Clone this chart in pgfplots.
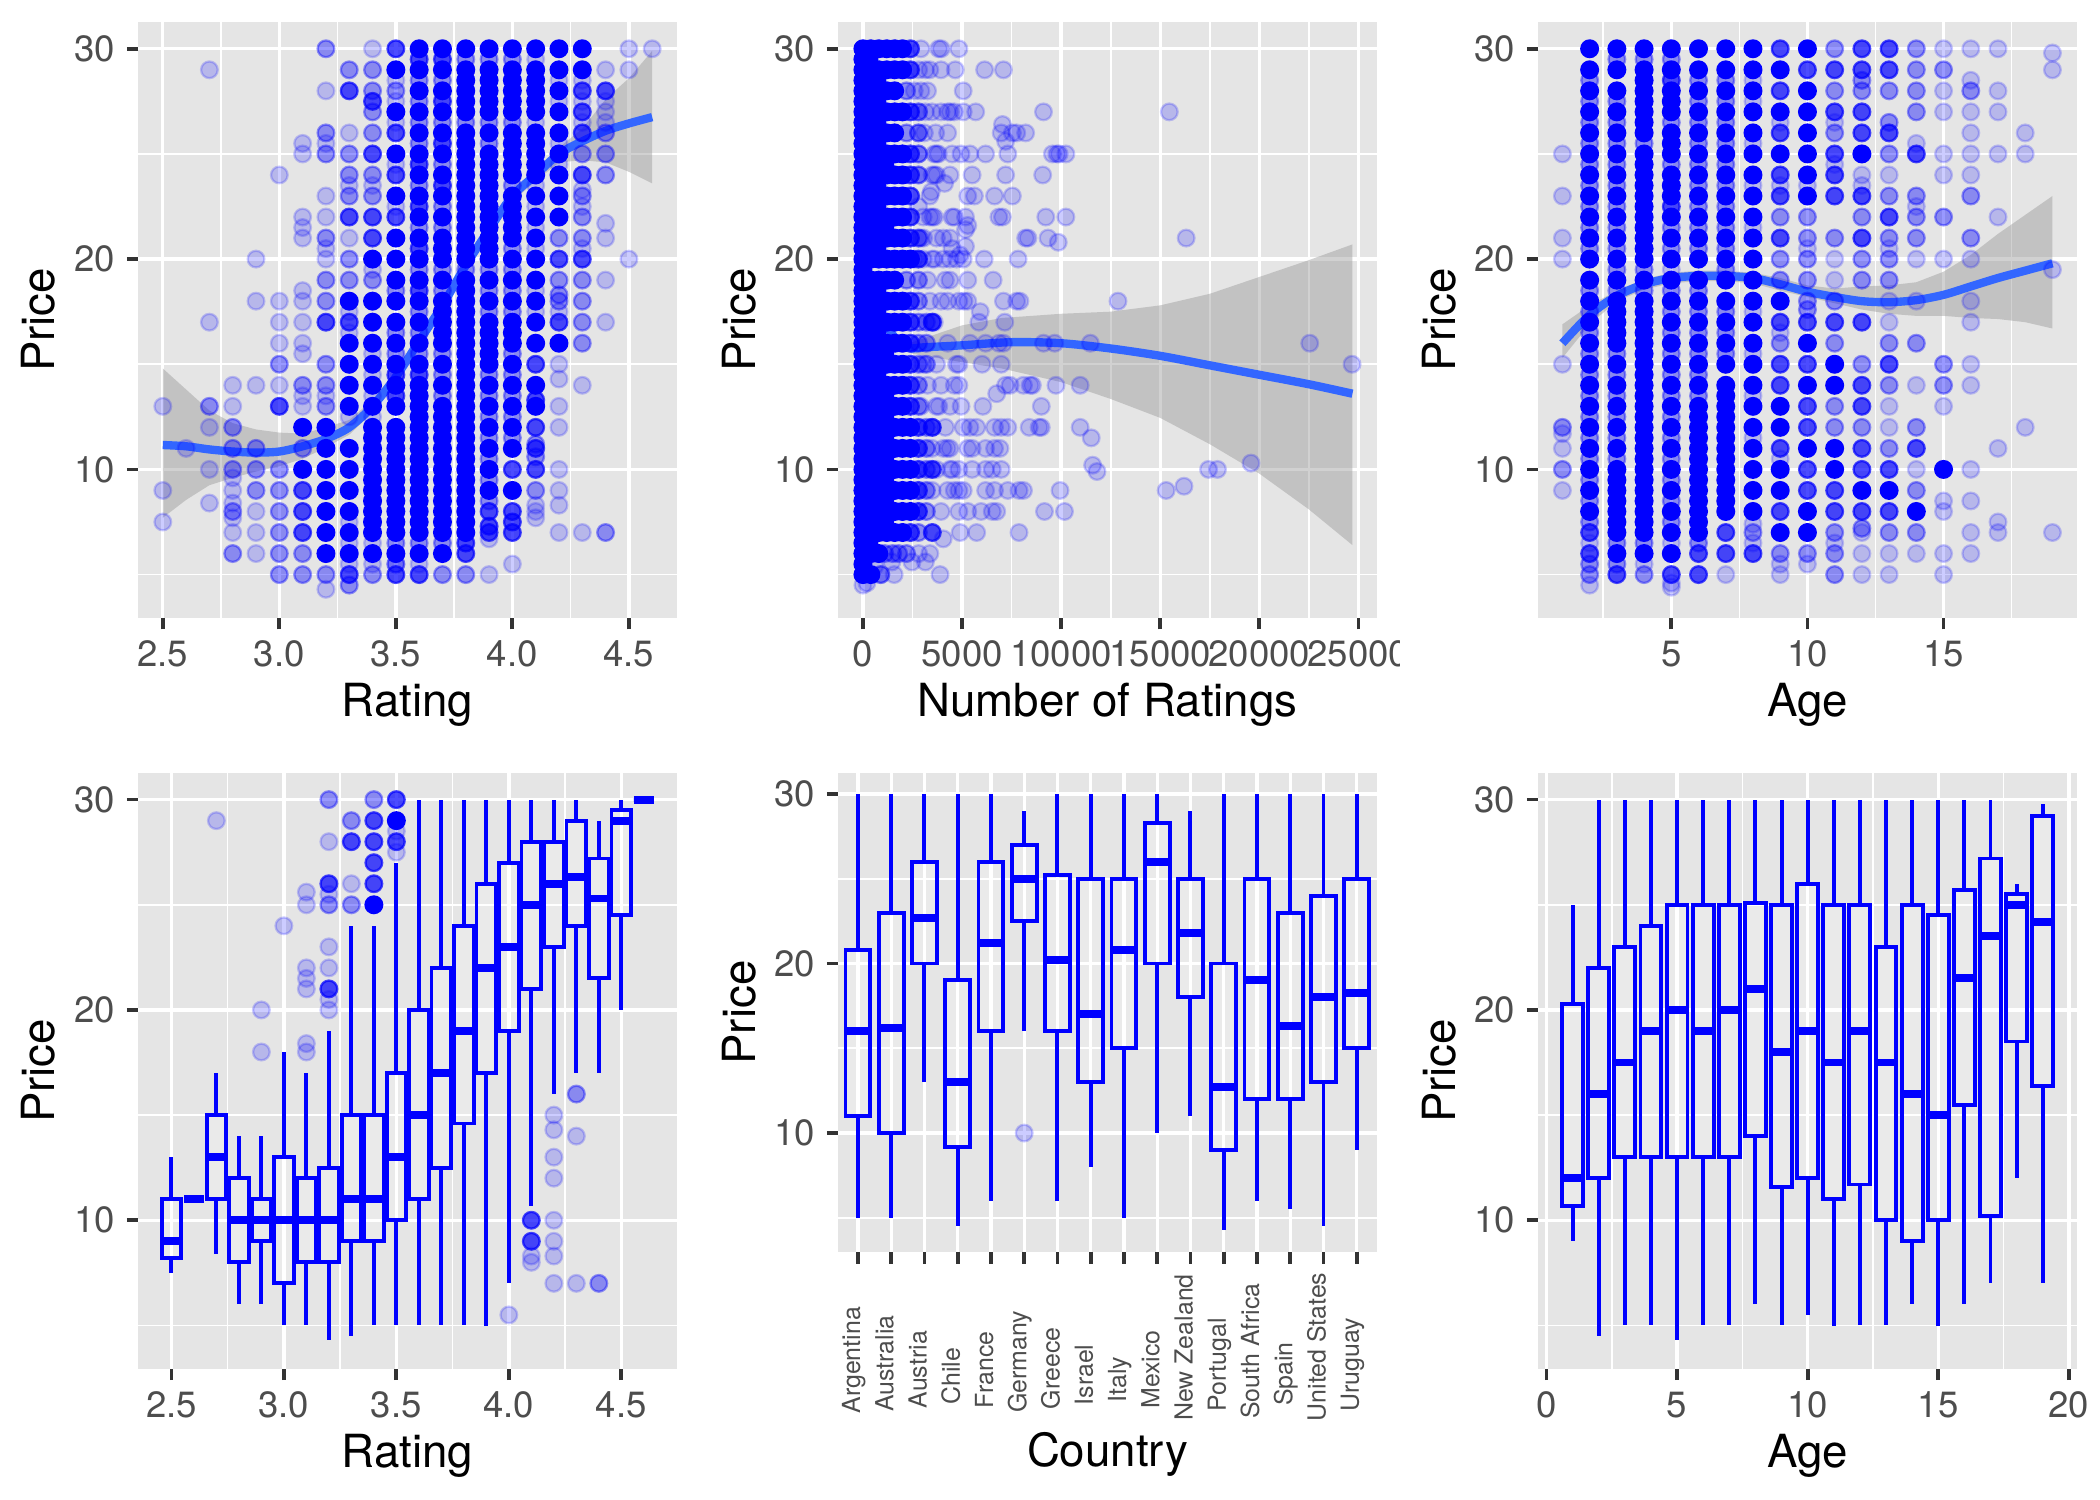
\documentclass[border=0pt]{standalone}
\usepackage{fontspec}
\setmainfont{TeX Gyre Heros}
\usepackage{pgfplots}
\pgfplotsset{compat=1.18}
\usepgfplotslibrary{statistics}
\definecolor{panel}{HTML}{E5E5E5}
\definecolor{tickc}{HTML}{333333}
\definecolor{ticktxt}{HTML}{4D4D4D}
\definecolor{smoothc}{HTML}{3366FF}
\definecolor{ribbon}{HTML}{999999}
\newcommand\axt{\fontsize{11}{13}\selectfont}
\pgfplotsset{
 gg/.style={scale only axis,width=129.2bp,height=143bp,anchor=north west,clip=true,
  axis line style={draw=none},axis background/.style={fill=panel},
  grid=both,major grid style={white,line width=.8bp},minor grid style={white,line width=.4bp},
  tick align=outside,xtick pos=bottom,ytick pos=left,
  major tick length=2.75bp,minor tick length=0pt,
  major tick style={tickc,line width=.9bp},minor tick style={draw=none},
  tick label style={font=\fontsize{8.8}{10}\selectfont,text=ticktxt,inner sep=2.6bp},
  ytick={10,20,30},yticklabels={10,20,30},minor ytick={5,15,25},
  scaled x ticks=false,
  ylabel={Price},
  every axis x label/.style={at={(axis description cs:0.5,0)},anchor=base,yshift=-23.6bp,font=\axt,text=black},
  every axis y label/.style={at={(axis description cs:0,0.5)},xshift=-20bp,rotate=90,anchor=base,font=\axt,text=black},
  boxplot/draw direction=y,
  boxplot/whisker extend=0,
  boxplot/every median/.style={line width=1.9bp},
 },
 ptm/.style={only marks,mark=*,mark size=2bp,
  mark options={draw=blue,fill=blue,draw opacity=#1,fill opacity=#1,line width=.55bp}},
 boxp/.style={blue,line width=.95bp,fill=white,fill opacity=.2,solid},
 sm/.style={smoothc,line width=2bp,smooth,no marks,line join=round},
 rb/.style={fill=ribbon,fill opacity=.45,draw=none,no marks},
}
% column of points: opacity, x, y values
\newcommand\C[3]{\def\pp{}\foreach \y in {#3}{\xdef\pp{\pp (#2,\y)}}%
 \edef\tmp{\noexpand\addplot[ptm=#1] coordinates {\pp};}\tmp}
% box: position, low whisker, Q1, median, Q3, high whisker
\newcommand\B[6]{\addplot[boxp,boxplot prepared={draw position=#1,lower whisker=#2,lower quartile=#3,median=#4,upper quartile=#5,upper whisker=#6}] coordinates {};}
\newcommand\cl[1]{\setbox0=\hbox{#1}\hbox to 0pt{\kern-.18\wd0 \copy0\hss}}
\begin{document}
\begin{tikzpicture}
\path[use as bounding box] (0,0) rectangle (504bp,360bp);
% ---------- Panel 1
\begin{axis}[gg,at={(33.2bp,354.7bp)},xmin=2.395,xmax=4.705,ymin=2.94,ymax=31.27,
 xtick={2.5,3,3.5,4,4.5},xticklabels={2.5,3.0,3.5,4.0,4.5},minor xtick={2.75,3.25,3.75,4.25},xlabel={Rating}]
\C{.2}{2.5}{13,9,7.5}
\C{.2}{2.6}{11}
\C{.2}{2.7}{29,17,12,10,8.4}\C{.4}{2.7}{13}
\C{.2}{2.8}{14,13,9.6,9,8.4,7.7,7}\C{.4}{2.8}{12,11,10,8,6}
\C{.2}{2.9}{20,18,14,8,7,6}\C{.4}{2.9}{11,10,9}
\C{.2}{3.0}{24,18,17,16,14}\C{.4}{3.0}{15,10,9,8,7,6,5}\C{.7}{3.0}{13}
\C{.2}{3.1}{25.5,25,22,21.5,21,18.5,18,17,16,15.5,13.5,13}\C{.4}{3.1}{14,11,6,5}\C{.7}{3.1}{9,8,7}\C{1}{3.1}{12,10}
\C{.2}{3.2}{28,25.5,23,22,20.5,20,4.3,13.5}\C{.4}{3.2}{30,26,25,21,19,18,15,14,13,5}\C{.7}{3.2}{17}\C{1}{3.2}{12,11,10,9,8,7,6}
\C{.2}{3.3}{26,21,12.5,23.5,7.5,6.5,16.5,17.5,5.5}\C{.4}{3.3}{29,25,24,23,20,19,4.5}\C{.7}{3.3}{28,22,17,5}\C{1}{3.3}{18,16,15,14,13,11,10,9,8,7,6}
\C{.2}{3.4}{30,23.5,8.5,6.5,5.5,19.5,15.5,14.5,13.5,12.5}\C{.4}{3.4}{29,28,27,26,24,23,19,5}\C{.7}{3.4}{25,22,21,27.5}\C{1}{3.4}{20,18,17,16,15,14,13,12,11,10,9,8,7,6,11.5,10.5,9.5,8.5,7.5}
\C{.2}{3.5}{28.5,27.5,5.5,26.5,24.5,22.5}\C{.4}{3.5}{28,16.5,15.5,18.5,6.5,5.5}\C{.7}{3.5}{30,26,24,22,5,14.5,13.5}\C{1}{3.5}{29,27,25,23,21,20,19,18,17,16,15,14,13,12,11.5,11,10.5,10,9.5,9,8.5,8,7.5,7,6}
\C{.2}{3.6}{5.5}\C{.4}{3.6}{28.5,27.5,26.5,25.5,23.5,21.5,19.5,17.5,16.5,15.5,6.5}\C{.7}{3.6}{5,29.5,24.5,22.5,20.5,18.5,14.5}\C{1}{3.6}{30,29,28,27,26,25,24,23,22,21,20,19,18,17,16,15,14,13,12,11,10,9,8,7,6,13.5,12.5,11.5,10.5,9.5,8.5,7.5}
\C{.4}{3.7}{5,28.5,26.5,24.5,22.5,21.5,19.5,18.5,15.5,14.5,13.5,6.5}\C{.7}{3.7}{29.5,27.5,25.5,23.5}\C{1}{3.7}{30,29,28,27,26,25,24,23,22,21,20,19,18,17,16,15,14,13,12,11,10,9,8,7,6,20.5,17.5,16.5,12.5,11.5,10.5,9.5,8.5,7.5}
\C{.4}{3.8}{5,29.5,26.5,19.5}\C{.7}{3.8}{6,6.5}\C{1}{3.8}{30,29,28,27,26,25,24,23,22,21,20,19,18,17,16,15,14,13,12,11,10,9,8,7,28.5,27.5,25.5,24.5,23.5,22.5,21.5,20.5,18.5,17.5,16.5,15.5,14.5,13.5,12.5,11.5,10.5,9.5,8.5,7.5}
\C{.2}{3.9}{5,6.7}\C{.4}{3.9}{29.5,26.5,25.5,19.5,18.5,17.5,14.5,13.5,12.5,11.5,10.5,9.5,8.5}\C{.7}{3.9}{7,8,7.3}\C{1}{3.9}{30,29,28,27,26,25,24,23,22,21,20,19,18,17,16,15,14,13,12,11,10,9,28.5,27.5,24.5,23.5,22.5,21.5,20.5,16.5,15.5}
\C{.2}{4.0}{5.5}\C{.4}{4.0}{29.5,26.5,23.5,20.5,19.5,18.5,17.5,15.5,14.5,13.5,12.5,11.5}\C{.7}{4.0}{10,8,7,7.5}\C{1}{4.0}{30,29,28,27,26,25,24,23,22,21,20,19,18,17,16,15,14,13,12,11,9,28.5,27.5,25.5,24.5,22.5,21.5,16.5}
\C{.2}{4.1}{8,7.7,8.3,29.5,26.5,23.5,22.5,21.5,20.5,18.5,17.5}\C{.4}{4.1}{11.2,10.6,9}\C{.7}{4.1}{15,12,11,10,13.3}\C{1}{4.1}{30,29,28,27,26,25,24,23,22,21,20,19,18,17,16,14,13,28.5,27.5,25.5,24.5}
\C{.2}{4.2}{15,14.3,13,12,10,9,8.3,7,17.5,28.5,27.5,25.5,24.5}\C{.4}{4.2}{19,18.3,18,21}\C{.7}{4.2}{20,17}\C{1}{4.2}{30,29,28,27,26,25,24,23,22,16}
\C{.2}{4.3}{22.5,20.5,14,7,26.5,23.3,28.5,27.5}\C{.4}{4.3}{25,23,22,21,19,18,17,16}\C{.7}{4.3}{28,27,26,24,20}\C{1}{4.3}{30,29}
\C{.2}{4.4}{29,27.5,27,26.5,21.7,21,19,17}\C{.4}{4.4}{26,25,24,7}\C{.7}{4.4}{28}
\C{.2}{4.5}{30,29,20}
\C{.2}{4.6}{30}
\addplot[rb] coordinates {(2.5,14.8)(2.6,13.8)(2.7,12.8)(2.8,12.2)(2.9,11.9)(3.0,11.75)(3.1,11.7)(3.2,12.0)(3.3,12.35)(3.4,13.3)(3.5,14.7)(3.6,16.4)(3.7,18.05)(3.8,19.95)(3.9,21.65)(4.0,23.25)(4.1,24.3)(4.2,25.3)(4.3,26.2)(4.4,27.6)(4.5,28.6)(4.6,29.9)
 (4.6,23.6)(4.5,24.15)(4.4,24.6)(4.3,24.7)(4.2,24.6)(4.1,23.7)(4.0,22.75)(3.9,21.15)(3.8,19.45)(3.7,17.55)(3.6,15.8)(3.5,14.1)(3.4,12.7)(3.3,11.65)(3.2,11.05)(3.1,10.5)(3.0,10.15)(2.9,9.9)(2.8,9.6)(2.7,9.25)(2.6,8.55)(2.5,7.7)};
\addplot[sm] coordinates {(2.5,11.16)(2.6,11.1)(2.7,10.95)(2.8,10.85)(2.9,10.8)(3.0,10.85)(3.1,11.1)(3.2,11.45)(3.3,12)(3.4,13)(3.5,14.4)(3.6,16.1)(3.7,17.8)(3.8,19.7)(3.9,21.4)(4.0,23.0)(4.1,24)(4.2,25)(4.3,25.6)(4.4,26.1)(4.5,26.45)(4.6,26.75)};
\end{axis}
% ---------- Panel 2
\begin{axis}[gg,at={(201.2bp,354.7bp)},xmin=-1241,xmax=25923,ymin=2.94,ymax=31.27,
 xtick={0,5000,10000,15000,20000,25000},xticklabels={0,5000,10000,15000,20000,25000},minor xtick={2500,7500,12500,17500,22500},xlabel={Number of Ratings}]
\C{1}{0}{30,29.5,29,28.5,28,27.5,27,26.5,26,25.5,25,24.5,24,23.5,23,22.5,22,21.5,21,20.5,20,19.5,19,18.5,18,17.5,17,16.5,16,15.5,15,14.5,14,13.5,13,12.5,12,11.5,11,10.5,10,9.5,9,8.5,8,7.5,7,6.5,6,5.5,5}
\C{1}{300}{29.5,28.5,27.5,26.5,25.5,24.5,23.5,22.5,21.5,20.5,18.5,17.5,16.5,15.5,14.5,13.5,12.5,11.5,10.5,9.5,8.5,7.5,6.5}
\C{1}{700}{28.5,27.5,26.5,25.5,24.5,23.5,22.5,21.5,20.5,18.5,17.5,16.5,15.5,14.5,13.5,12.5,11.5,10.5,9.5,8.5,7.5}
\C{1}{1100}{13.5,12.5,11.5,10.5,9.5,8.5,7.5,15.5,21.5,24.5}
\C{1}{400}{30,29,28,27,26,25,24,23,22,21,20,19,18,17,16,15,14,13,12,11,10,9,8,7,6,5}
\C{1}{800}{30,29,28,27,26,25,24,23,22,21,20,19,18,17,16,15,14,13,12,11,10,9,8,7,6}
\C{1}{1200}{30,29,28,27,26,25,24,23,22,21,20,19,18,17,16,15,14,13,12,11,10,9,8,7}
\C{1}{1600}{30,29,28,27,26,25,24,23,22,21,20,19,18,17,16,15,14,13,12,11,10,9,8,7}
\C{1}{2000}{30,29,27,25,24,23,22,21,20,18,17,16,15,14,13,12,11,10,9,8,7}
\C{1}{2400}{20,12,11,10,9,8}
\C{.7}{2400}{30,29,27,25,24,23,22,21,18,17,16,15,14,13,7}
\C{.7}{2800}{10,9,8,11,12,20}
\C{.4}{1800}{6}\C{.4}{2200}{6,28,26,19}
\C{.4}{2800}{27,25,24,19,18,17,16,15,14,13,7,26,21}
\C{.2}{0}{4.5}\C{.2}{200}{4.6}\C{.2}{600}{5.4}\C{.4}{900}{5}\C{.4}{1100}{6}\C{.4}{1500}{6}
\C{.7}{3500}{7,12,10,17}\C{.4}{3200}{11,12,10,9,8,17,16,15}
\addplot[ptm=.2] coordinates {
(2925,30)(3825,30)(3950,30)(4840,30)
(2812,29)(3150,29)(3375,29)(3940,29)(4660,29)(6140,29)(7090,29)
(2590,28)(2925,28)(3260,28)(5060,28)
(2810,27)(3150,27)(3490,27)(3940,27)(4275,27)(4400,27)(4610,27)(5060,27)(5690,27)(9110,27)(15460,27)
(7040,26.4)(2810,26)(3670,26)(4275,26)(6975,26)(7540,26)(7760,26)(8210,26)(7200,25.6)(3100,26)
(2810,25)(3600,25)(3710,25)(3800,25)(4500,25)(4950,25)(5400,25)(6190,25)(7310,25)(9560,25)(9790,25)(9900,25)(10240,25)
(2810,24)(3490,24)(3710,24)(3600,24)(4390,24)(5510,24)(7200,24)(9070,24)(4120,23.6)
(3375,23)(3450,23.2)(5290,23)(5625,23)(6640,23)(7540,23)(2810,22.5)
(3040,22)(3375,22)(3500,22)(3600,22)(4610,22)(4500,22)(5175,22)(6860,22)(7040,22)(9225,22)(10240,22)(5290,21.6)
(2810,21)(2925,21)(3060,21)(3710,21)(4050,21)(4390,21)(5175,21.4)(8210,21)(8325,21)(9340,21)(9855,20.8)(16310,21)
(4500,20.5)(5175,20.6)(4900,20.2)
(2590,20)(3040,20)(3490,20)(3600,20)(4050,20)(4390,20)(4725,20)(5060,20)(6120,20)(7830,20)
(3260,19)(4160,19)(4390,19)(5290,19)(6570,19)
(3375,18)(3940,18)(4275,18)(4840,18)(5100,18)(5290,18)(7090,18)(7760,18)(7920,18)(12870,18)(5920,17.5)
(3600,17)(3500,17)(5850,17)(7155,17)
(4275,16)(5400,16)(6190,16)(6860,16)(7090,16)(9110,16)(9675,16)(11475,16)(22545,16)
(3040,15)(3710,15)(4725,15)(4840,15)(6010,15)(6975,15)(24680,15)
(3260,14)(3940,14)(4610,14)(4840,14)(6750,13.6)(7200,14)(7425,14)(8100,14)(8440,14)(8550,14)(9740,14)(10960,14)
(2925,13)(3825,13)(3700,13)(4390,13)(4950,13)(6050,13)(9000,13)
(3490,12)(4160,12)(5060,12)(5400,12)(5740,12)(6640,12)(6975,12)(7310,12)(8390,12)(8890,12)(9000,12)(10960,12)(11520,11.5)
(3490,11)(4050,11)(4390,11)(4250,11)(5290,11)(5510,11)(6190,11)(6640,11)(6910,11)
(3710,10)(4390,10)(4840,10)(4500,10)(5510,10)(6190,10)(6525,10)(6975,10)(11590,10.2)(11810,9.9)(17440,10)(17890,10)(19580,10.3)
(3490,9)(4275,9)(4610,9)(4840,9)(5060,9)(6190,9)(6640,9)(7310,9)(7875,9)(8100,9)(9945,9)(15300,9)(16200,9.2)
(3940,8)(4840,8)(5290,8)(5960,8)(6525,8)(6750,8)(9160,8)(10170,8)
(4050,6.7)(4905,7)(5740,7)(7875,7)
(2810,6)(3375,6)(1460,5.6)(2475,5.6)(3150,5.6)(900,5)(1575,5)(3890,5)};
\addplot[rb] coordinates {(0,19.62)(500,18.35)(1000,17.4)(1500,16.65)(2000,16.15)(2500,16.05)(5000,16.85)(7000,17.2)(10000,17.4)(12500,17.5)(15000,17.8)(17500,18.35)(20000,19.15)(22500,19.95)(24700,20.7)
 (24700,6.4)(22500,8.1)(20000,9.8)(17500,11.2)(15000,12.45)(12500,13.35)(10000,14.15)(7000,14.8)(5000,15.1)(2500,15.5)(2000,15.65)(1500,16.15)(1000,16.8)(500,17.65)(0,18.92)};
\addplot[sm] coordinates {(0,19.27)(500,18)(1000,17.1)(1500,16.4)(2000,15.9)(2500,15.75)(3000,15.8)(5000,15.9)(7500,16.05)(10000,16)(12500,15.75)(15000,15.4)(17500,14.95)(20000,14.5)(22500,14.05)(24700,13.6)};
\end{axis}
\fill[white] (336bp,217bp) rectangle (346bp,199bp);
% ---------- Panel 3
\begin{axis}[gg,at={(369.2bp,354.7bp)},xmin=.116,xmax=19.89,ymin=2.94,ymax=31.27,
 xtick={5,10,15},xticklabels={5,10,15},minor xtick={2.5,7.5,12.5,17.5},xlabel={Age}]
\C{.2}{1}{25,23,21,20,15,11.7,11,9}\C{.4}{1}{12,10}
\C{.2}{2}{6.5,4.5}\C{.4}{2}{28.5,27.5,26.5,25.5,24.5,23.5,22.5,21.5,20.5,18.5,17.5,16.5,15.5,14.5,13.5,12.5,11.5,10.5,9.5,8.5,7.5,5.5,5}\C{.7}{2}{7,6}\C{1}{2}{30,29,28,27,26,25,24,23,22,21,20,19,18,17,16,15,14,13,12,11,10,9,8}
\C{.4}{3}{29.5,27.5,26.5,25.5,24.5,23.5,22.5,21.5,20.5,19.5,18.5,15.5,14.5,13.5,12.5,11.5,10.5,6.5,5.5}\C{.7}{3}{5}\C{1}{3}{30,29,28,27,26,25,24,23,22,21,20,19,18,17,16,15,14,13,12,11,10,9,8,7,6,16.5,17.5,9.5,8.5,7.5}
\C{.2}{4}{5.5}\C{.4}{4}{5,29.5,25.5,19.5,18.5,6.5}\C{1}{4}{30,29,28,27,26,25,24,23,22,21,20,19,18,17,16,15,14,13,12,11,10,9,8,7,6,28.5,27.5,26.5,24.5,23.5,22.5,21.5,20.5,17.5,16.5,15.5,14.5,13.5,12.5,11.5,10.5,9.5,8.5,7.5}
\C{.2}{5}{4.6,4.4,19.5,6.5}\C{.4}{5}{29.5,26.5,24.5,21.5,20.5,18.5,17.5,16.5,15.5,14.5,13.5,12.5,11.5,10.5,9.5,8.5,7.5}\C{.7}{5}{5,28.5,22.5}\C{1}{5}{30,29,28,27,26,25,24,23,22,21,20,19,18,17,16,15,14,13,12,11,10,9,8,7,6,23.5,25.5,27.5}
\C{.4}{6}{28.5,27.5,26.5,25.5,24.5,23.5,22.5,21.5,20.5,18.5,17.5,16.5,15.5,14.5,13.5,6.5}\C{.7}{6}{6,5}\C{1}{6}{30,29,28,27,26,25,24,23,22,21,20,19,18,17,16,15,14,13,12,11,10,9,8,7,12.5,11.5,10.5,9.5,8.5,7.5}
\C{.2}{7}{5}\C{.4}{7}{28.5,27.5,26.5,25.5,24.5,23.5,22.5,21.5,20.5,19.5,17.5,16.5,15.5}\C{.7}{7}{7,6}\C{1}{7}{30,29,28,27,26,25,24,23,22,21,20,19,18,17,16,15,14,13,12,11,10,9,8,13.5,12.5,11.5,10.5,9.5,8.5}
\C{.2}{8}{7.4,6.5,28.5,27.5,25.5,23.5,21.5,17.5,15.5,13.5,11.5}\C{.4}{8}{7}\C{.7}{8}{6}\C{1}{8}{30,29,28,27,26,25,24,23,22,21,20,19,18,17,16,15,14,13,12,11,10,9,8}
\C{.2}{9}{5.5,5,26.5,23.5,16.5,10.5}\C{.4}{9}{22,20,19,16,6}\C{.7}{9}{30,28,26,24,23,21,17,15,14,11,8}\C{1}{9}{29,27,25,18,13,12,10,9,7}
\C{.2}{10}{5.5,23.5,20.5}\C{.4}{10}{22,21,20,19,18,17.6,6}\C{.7}{10}{29,17,15,13,12,10,9}\C{1}{10}{30,28,27,26,25,24,23,16,14,11,8,7}
\C{.2}{11}{20,19,6.5,24.5,26.5}\C{.4}{11}{30,28,26,21,18,16,13,12,7,6,5}\C{.7}{11}{29,27,25,24,23,17,9,8}\C{1}{11}{15,14,11,10}
\C{.2}{12}{24,23.5,7,6,5}\C{.4}{12}{28,22,20,19,15,12,7.2,28.5}\C{.7}{12}{30,29,27,26,23,21,17,14,13,11,10,8}\C{1}{12}{25,9}
\C{.2}{13}{24,18,17,13,12,6,5,20.5}\C{.4}{13}{28,25,23,21,20,19,16,14,11,7,26.5}\C{.7}{13}{30,29,26,22,15,10,8}\C{1}{13}{9}
\C{.2}{14}{22.5,20,18,14,10,6,25.5}\C{.4}{14}{30,29,28,27,23,21,16,12,9,7,22}\C{.7}{14}{25,11}\C{1}{14}{8}
\C{.2}{15}{30,28,27,25,24,20,13,8.5,8,6,5}\C{.4}{15}{29,22,15,14}\C{1}{15}{10}
\C{.2}{16}{30,28.5,27,26,25,24,20,18,17,15,14,10,8.5,7,6}\C{.4}{16}{28,23,21}
\C{.2}{17}{30,28,27,25,22,11,7.5,7}
\C{.2}{18}{26,25,12}
\C{.2}{19}{29.8,29,19.5,7}
\addplot[rb] coordinates {(1,16.9)(2,17.8)(3,18.5)(4,19.05)(5,19.35)(6,19.45)(7,19.45)(8,19.35)(9,19.1)(10,18.75)(11,18.6)(12,18.7)(13,18.75)(14,18.9)(15,19.4)(16,20.2)(17,21.2)(18,22.1)(19,23)
 (19,16.7)(18,17)(17,17.15)(16,17.2)(15,17.3)(14,17.3)(13,17.4)(12,17.6)(11,17.9)(10,18.2)(9,18.5)(8,18.85)(7,18.95)(6,18.95)(5,18.85)(4,18.55)(3,18)(2,16.9)(1,15.3)};
\addplot[sm] coordinates {(1,16)(2,17.35)(3,18.25)(4,18.8)(5,19.1)(6,19.2)(7,19.2)(8,19.1)(9,18.8)(10,18.45)(11,18.2)(12,18)(13,17.95)(14,18.05)(15,18.3)(16,18.7)(17,19.1)(18,19.45)(19,19.8)};
\end{axis}
% ---------- Panel 4
\begin{axis}[gg,at={(33.2bp,174.5bp)},xmin=2.353,xmax=4.746,ymin=2.94,ymax=31.27,boxplot/box extend=.0875,
 xtick={2.5,3,3.5,4,4.5},xticklabels={2.5,3.0,3.5,4.0,4.5},minor xtick={2.75,3.25,3.75,4.25},xlabel={Rating}]
\C{.2}{2.7}{29}
\C{.2}{2.9}{20,18}
\C{.2}{3.0}{24}
\C{.2}{3.1}{25.6,25,22,21.5,21,18.4,18}
\C{.2}{3.2}{28,25.5,23,22,20.5,20}\C{.4}{3.2}{30,25}\C{.7}{3.2}{26,21}
\C{.2}{3.3}{26}\C{.4}{3.3}{29,25}\C{.7}{3.3}{28}
\C{.4}{3.4}{30}\C{.7}{3.4}{29,28,27,26}\C{1}{3.4}{25}
\C{.2}{3.5}{28.5,27.5}\C{.7}{3.5}{30,28}\C{1}{3.5}{29}
\C{.2}{4.0}{5.5}
\C{.2}{4.1}{8.3,8}\C{.7}{4.1}{10,9}
\C{.2}{4.2}{15,14.3,13,12,10,9,8.3,7}
\C{.2}{4.3}{14,7}\C{.4}{4.3}{16}
\C{.4}{4.4}{7}
\B{2.5}{7.5}{8.2}{9}{11}{13}
\B{2.6}{11}{11}{11}{11}{11}
\B{2.7}{8.4}{11}{13}{15}{17}
\B{2.8}{6}{8}{10}{12}{14}
\B{2.9}{6}{9}{10}{11}{14}
\B{3.0}{5}{7}{10}{13}{18}
\B{3.1}{5}{8}{10}{12}{17}
\B{3.2}{4.3}{8}{10}{12.5}{19}
\B{3.3}{4.5}{9}{11}{15}{24}
\B{3.4}{5}{9}{11}{15}{24}
\B{3.5}{5}{10}{13}{17}{27}
\B{3.6}{5}{11}{15}{20}{30}
\B{3.7}{5}{12.5}{17}{22}{30}
\B{3.8}{5}{14.6}{19}{24}{30}
\B{3.9}{4.95}{17}{22}{26}{30}
\B{4.0}{7}{19}{23}{27}{30}
\B{4.1}{10.7}{21}{25}{28}{30}
\B{4.2}{16}{23}{26}{28}{30}
\B{4.3}{17}{24}{26.3}{29}{30}
\B{4.4}{17}{21.5}{25.3}{27.2}{29}
\B{4.5}{20}{24.5}{29}{29.5}{30}
\B{4.6}{30}{30}{30}{30}{30}
\end{axis}
% ---------- Panel 5
\begin{axis}[gg,at={(201.2bp,174.5bp)},height=115bp,xmin=.41,xmax=16.6,ymin=2.98,ymax=31.24,boxplot/box extend=.75,
 xtick={1,...,16},minor xtick={},
 xticklabels={\cl{Argentina},\cl{Australia},\cl{Austria},\cl{Chile},\cl{France},\cl{Germany},\cl{Greece},\cl{Israel},\cl{Italy},\cl{Mexico},\cl{New Zealand},\cl{Portugal},\cl{South Africa},\cl{Spain},\cl{United States},\cl{Uruguay}},
 xticklabel style={font=\fontsize{6}{7}\selectfont,yshift=-31.4bp,xshift=.5bp,rotate=90,anchor=base,inner sep=0pt},
 xlabel={Country},every axis x label/.style={at={(axis description cs:0.5,0)},anchor=base,yshift=-51.4bp,font=\axt,text=black}]
\C{.2}{6}{10}
\B{1}{5}{11}{16}{20.8}{30}
\B{2}{5}{10}{16.2}{23}{30}
\B{3}{13}{20}{22.7}{26}{30}
\B{4}{4.5}{9.2}{13}{19}{30}
\B{5}{6}{16}{21.2}{26}{30}
\B{6}{16}{22.5}{25}{27}{29}
\B{7}{6}{16}{20.2}{25.2}{30}
\B{8}{8}{13}{17}{25}{30}
\B{9}{5}{15}{20.8}{25}{30}
\B{10}{10}{20}{26}{28.3}{30}
\B{11}{11}{18}{21.8}{25}{29}
\B{12}{4.3}{9}{12.7}{20}{30}
\B{13}{6}{12}{19}{25}{30}
\B{14}{5.5}{12}{16.3}{23}{30}
\B{15}{4.5}{13}{18}{24}{30}
\B{16}{9}{15}{18.25}{25}{30}
\end{axis}
% ---------- Panel 6
\begin{axis}[gg,at={(369.2bp,174.5bp)},xmin=-.31,xmax=20.3,ymin=2.94,ymax=31.27,boxplot/box extend=.8,
 xtick={0,5,10,15,20},xticklabels={0,5,10,15,20},minor xtick={2.5,7.5,12.5,17.5},xlabel={Age}]
\B{1}{9}{10.7}{12}{20.3}{25}
\B{2}{4.5}{12}{16}{22}{30}
\B{3}{5}{13}{17.5}{23}{30}
\B{4}{5}{13}{19}{24}{30}
\B{5}{4.3}{13}{20}{25}{30}
\B{6}{5}{13}{19}{25}{30}
\B{7}{5}{13}{20}{25}{30}
\B{8}{6}{14}{21}{25.1}{30}
\B{9}{5}{11.6}{18}{25}{30}
\B{10}{5.5}{12}{19}{26}{30}
\B{11}{4.95}{11}{17.5}{25}{30}
\B{12}{5}{11.7}{19}{25}{30}
\B{13}{5}{10}{17.5}{23}{30}
\B{14}{6}{9}{16}{25}{30}
\B{15}{4.95}{10}{15}{24.5}{30}
\B{16}{6}{15.5}{21.5}{25.7}{30}
\B{17}{7}{10.2}{23.5}{27.2}{30}
\B{18}{12}{18.5}{25}{25.5}{26}
\B{19}{7}{16.4}{24.2}{29.2}{29.8}
\end{axis}
\end{tikzpicture}
\end{document}
